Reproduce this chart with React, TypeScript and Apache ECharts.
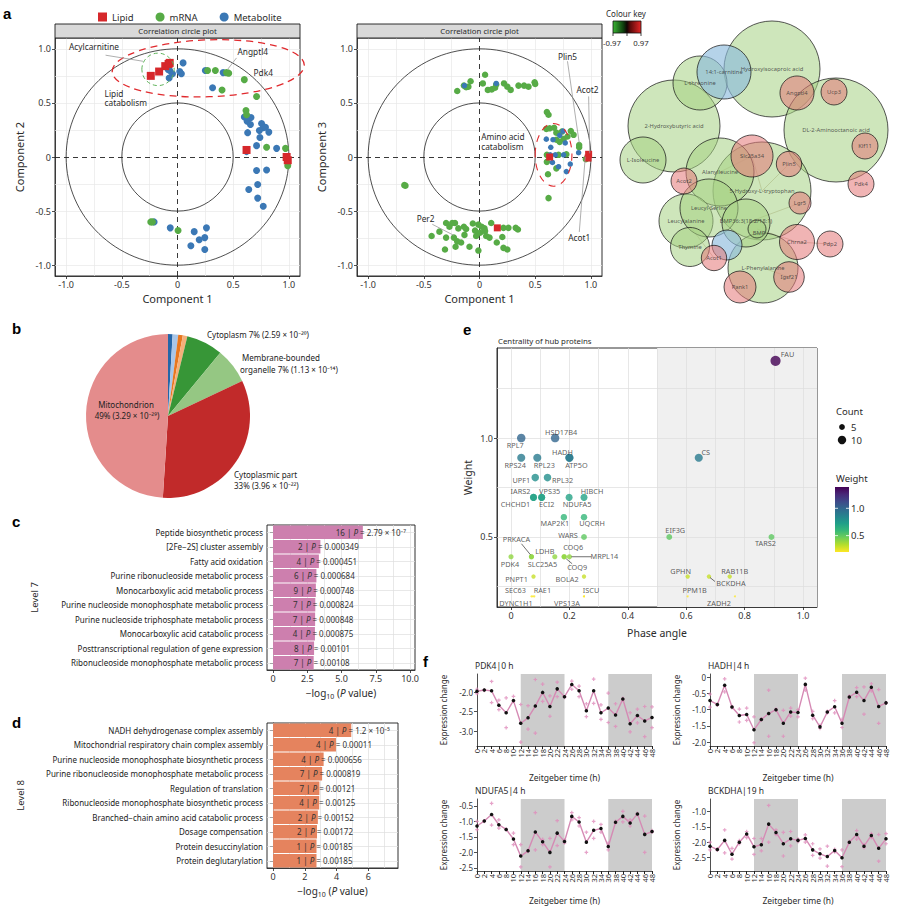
import React, { useEffect, useRef } from 'react';
import * as echarts from 'echarts';

const FONT = "'Noto Sans', 'DejaVu Sans', sans-serif";
const INK = '#2b2b2b';
const RED = '#d6282b';
const GREEN = '#57ab46';
const BLUE = '#3b78b5';

// ---------- a: correlation circle plots (component 1 vs 2 / 1 vs 3) ----------
const circleTicks = [-1, -0.5, 0, 0.5, 1];
const circleGrid = [-1, -0.75, -0.5, -0.25, 0.25, 0.5, 0.75, 1];
const lipid12 = [[-0.24, 0.75], [-0.165, 0.79], [-0.11, 0.84], [-0.08, 0.86], [-0.07, 0.87], [0.62, 0.065], [0.98, 0.0], [0.99, -0.03]];
const mrna12 = [[-0.24, -0.6], [-0.225, -0.6], [0.005, -0.68], [0.27, 0.8], [0.34, 0.8], [0.44, 0.78], [0.46, 0.775], [0.6, 0.715], [0.4, 0.62], [0.71, 0.56], [0.615, 0.43], [0.62, 0.39], [0.8, 0.09], [0.97, 0.08], [0.99, -0.08]];
const metab12 = [[0.05, 0.87], [-0.07, 0.8], [-0.045, 0.77], [-0.075, 0.73], [0.02, 0.79], [0.035, 0.77], [-0.085, 0.81], [0.25, 0.8], [0.41, 0.78], [0.315, 0.64], [0.6, 0.37], [0.625, 0.33], [0.66, 0.365], [0.655, 0.3], [0.63, 0.225], [0.755, 0.31], [0.77, 0.27], [0.735, 0.245], [0.79, 0.275], [0.82, 0.23], [0.74, 0.18], [0.71, 0.105], [0.89, 0.08], [0.62, 0.05], [0.71, -0.125], [0.8, -0.12], [0.72, -0.255], [0.64, -0.3], [0.72, -0.38], [0.77, -0.455], [-0.21, -0.6], [-0.065, -0.655], [0.15, -0.69], [0.26, -0.655], [0.195, -0.765], [0.245, -0.745], [0.12, -0.82], [0.245, -0.855]];
const lipid13 = [[0.98, 0.025], [0.975, -0.01], [0.16, -0.655], [0.63, 0.0]];
const mrna13 = [[-0.2, 0.61], [-0.14, 0.66], [-0.1, 0.65], [-0.08, 0.7], [0.05, 0.76], [0.03, 0.68], [0.075, 0.62], [0.11, 0.625], [0.14, 0.64], [0.15, 0.67], [0.22, 0.68], [0.25, 0.65], [0.28, 0.62], [0.35, 0.66], [0.4, 0.66], [0.44, 0.65], [0.495, 0.69], [0.5, 0.675], [-0.12, 0.645],
  [0.605, 0.415], [0.62, 0.39], [0.6, 0.26], [0.63, 0.265], [0.69, 0.225], [0.69, 0.16], [0.755, 0.165], [0.79, 0.19], [0.82, 0.24], [0.845, 0.205], [0.74, 0.235], [0.605, 0.02], [0.605, -0.045], [0.71, 0.02], [0.78, 0.025], [0.615, -0.16], [0.69, -0.105], [0.62, -0.38], [0.895, 0.11], [0.895, 0.09], [0.955, -0.02], [0.67, 0.27], [0.72, 0.14],
  [-0.665, -0.265], [-0.675, -0.26],
  [-0.43, -0.73], [-0.36, -0.69], [-0.3, -0.745], [-0.3, -0.61], [-0.31, -0.855], [-0.27, -0.645], [-0.245, -0.61], [-0.22, -0.61], [-0.23, -0.745], [-0.2, -0.78], [-0.215, -0.83], [-0.19, -0.66], [-0.165, -0.79], [-0.14, -0.645], [-0.12, -0.665], [-0.135, -0.72], [-0.09, -0.83], [-0.06, -0.615], [-0.04, -0.68], [-0.03, -0.73], [-0.01, -0.625], [-0.01, -0.865], [0.005, -0.7], [0.02, -0.645], [0.045, -0.66], [0.05, -0.685], [0.06, -0.73], [0.09, -0.745], [0.105, -0.61], [0.155, -0.79], [0.215, -0.655], [0.26, -0.655], [0.215, -0.84], [0.25, -0.855], [0.325, -0.655], [0.345, -0.67], [0.205, -0.74]];
const metab13 = [[0.15, 0.68], [-0.135, 0.66], [0.6, 0.165], [0.66, 0.16], [0.75, 0.24], [0.77, 0.13], [0.635, 0.02], [0.68, 0.02], [0.755, 0.02], [0.655, -0.05], [0.71, -0.09], [0.78, -0.135], [0.815, -0.065], [0.89, 0.04], [0.72, 0.2], [0.64, 0.09]];

// ---------- a: network (node layout in page pixels) ----------
const netNodes = [
  { name: 'Hydroxyisocaproic acid', kind: 'met', x: 772, y: 69, r: 48 },
  { name: 'DL-2-Aminooctanoic acid', kind: 'met', x: 836, y: 130, r: 52 },
  { name: '2-Hydroxybutyric acid', kind: 'met', x: 674, y: 126, r: 46 },
  { name: '5-Hydroxy-L-tryptophan', kind: 'met', x: 762, y: 191, r: 49 },
  { name: 'L-Phenylalanine', kind: 'met', x: 763, y: 268, r: 35 },
  { name: 'Alanylleucine', kind: 'met', x: 720, y: 172, r: 34 },
  { name: 'L-threonine', kind: 'met', x: 700, y: 83, r: 27 },
  { name: '14:1-carnitine', kind: 'lip', x: 724, y: 72, r: 27 },
  { name: 'L-Isoleucine', kind: 'met', x: 643, y: 160, r: 23 },
  { name: 'Leucylalanine', kind: 'met', x: 686, y: 221, r: 27 },
  { name: 'Leucyl-Serine', kind: 'met', x: 709, y: 208, r: 29 },
  { name: 'BMP36:3(18:2/18:1)', kind: 'met', x: 746, y: 223, r: 24 },
  { name: 'BMP', kind: 'met', x: 757, y: 229, r: 9 },
  { name: 'PE', kind: 'lip', x: 727, y: 245, r: 15 },
  { name: 'Thymine', kind: 'met', x: 690, y: 247, r: 19.5 },
  { name: 'Angptl4', kind: 'gene', x: 797, y: 93, r: 17 },
  { name: 'Ucp3', kind: 'gene', x: 834, y: 92, r: 13 },
  { name: 'Klf11', kind: 'gene', x: 865, y: 146, r: 13 },
  { name: 'Pdk4', kind: 'gene', x: 861, y: 184, r: 13 },
  { name: 'Slc25a34', kind: 'gene', x: 752, y: 156, r: 21 },
  { name: 'Plin5', kind: 'gene', x: 789, y: 164, r: 12.7 },
  { name: 'Acot2', kind: 'gene', x: 684, y: 181, r: 13 },
  { name: 'Lgr5', kind: 'gene', x: 800, y: 203, r: 11 },
  { name: 'Chrna2', kind: 'gene', x: 797, y: 242, r: 17.5 },
  { name: 'Pdp2', kind: 'gene', x: 830, y: 244, r: 13 },
  { name: 'Acot1', kind: 'gene', x: 714, y: 258, r: 12.7 },
  { name: 'Igsf21', kind: 'gene', x: 789, y: 277, r: 15.3 },
  { name: 'Pank1', kind: 'gene', x: 740, y: 287, r: 16 },
];
const netLinks = [['Chrna2', 'Pdp2'], ['Slc25a34', '5-Hydroxy-L-tryptophan'], ['Plin5', '5-Hydroxy-L-tryptophan'], ['Lgr5', 'BMP36:3(18:2/18:1)'], ['Chrna2', 'BMP'], ['Igsf21', 'L-Phenylalanine'], ['Acot1', 'Leucylalanine'], ['Slc25a34', 'Alanylleucine']];

// ---------- b: pie ----------
const pieNames = ['Other 1', 'Other 2', 'Other 3', 'Other 4', 'Cytoplasm', 'Membrane-bounded organelle', 'Cytoplasmic part', 'Mitochondrion'];
const pieValues = [0.9, 1.1, 0.9, 0.9, 7.2, 7.0, 33, 49];
const pieColors = ['#2566a8', '#a9c6e8', '#e8771f', '#f5b07a', '#379637', '#95c783', '#c12a2a', '#e48c8c'];

// ---------- c / d: enrichment bars ----------
const cTerms = ['Peptide biosynthetic process', '[2Fe−2S] cluster assembly', 'Fatty acid oxidation', 'Purine ribonucleoside metabolic process', 'Monocarboxylic acid metabolic process', 'Purine nucleoside monophosphate metabolic process', 'Purine nucleoside triphosphate metabolic process', 'Monocarboxylic acid catabolic process', 'Posttranscriptional regulation of gene expression', 'Ribonucleoside monophosphate metabolic process'];
const cCounts = [16, 2, 4, 6, 9, 7, 7, 4, 8, 7];
const cP = [2.79e-7, 0.000349, 0.000451, 0.000684, 0.000748, 0.000824, 0.000848, 0.000875, 0.00101, 0.00108];
const cPText = ['2.79 × 10⁻⁷', '0.000349', '0.000451', '0.000684', '0.000748', '0.000824', '0.000848', '0.000875', '0.00101', '0.00108'];
const cTicks = [0, 2.5, 5, 7.5, 10];
const cGridX = [0, 1.25, 2.5, 3.75, 5, 6.25, 7.5, 8.75, 10];
const dTerms = ['NADH dehydrogenase complex assembly', 'Mitochondrial respiratory chain complex assembly', 'Purine nucleoside monophosphate biosynthetic process', 'Purine ribonucleoside monophosphate metabolic process', 'Regulation of translation', 'Ribonucleoside monophosphate biosynthetic process', 'Branched−chain amino acid catabolic process', 'Dosage compensation', 'Protein desuccinylation', 'Protein deglutarylation'];
const dCounts = [4, 4, 4, 7, 7, 4, 2, 2, 1, 1];
const dP = [1.2e-5, 0.00011, 0.000656, 0.000819, 0.00121, 0.00125, 0.00152, 0.00172, 0.00185, 0.00185];
const dPText = ['1.2 × 10⁻⁵', '0.00011', '0.000656', '0.000819', '0.00121', '0.00125', '0.00152', '0.00172', '0.00185', '0.00185'];
const dTicks = [0, 2, 4, 6];
const dGridX = [0, 1, 2, 3, 4, 5, 6, 7];

// ---------- e: hub proteins ----------
const eNames = ['FAU', 'RPL7', 'HSD17B4', 'RPS24', 'RPL23', 'HADH', 'ATP5O', 'CS', 'UPF1', 'RPL32', 'IARS2', 'CHCHD1', 'VPS35', 'ECI2', 'NDUFA5', 'HIBCH', 'MAP2K1', 'UQCRH', 'WARS', 'EIF3G', 'TARS2', 'PDK4', 'PRKACA', 'SLC25A5', 'LDHB', 'COQ6', 'COQ9', 'MRPL14', 'PNPT1', 'BOLA2', 'GPHN', 'BCKDHA', 'RAB11B', 'SEC63', 'RAE1', 'DYNC1H1', 'ISCU', 'VPS13A', 'PPM1B', 'ZADH2'];
const ePhase = [0.906, 0.035, 0.151, 0.035, 0.09, 0.2, 0.2, 0.643, 0.083, 0.125, 0.077, 0.077, 0.105, 0.105, 0.199, 0.25, 0.181, 0.25, 0.25, 0.542, 0.892, 0.0, 0.07, 0.07, 0.15, 0.182, 0.182, 0.2, 0.077, 0.25, 0.605, 0.678, 0.749, 0.07, 0.08, 0.075, 0.25, 0.25, 0.605, 0.767];
const eWeight = [1.39, 1.0, 1.0, 0.9, 0.9, 0.9, 0.9, 0.9, 0.8, 0.8, 0.7, 0.7, 0.7, 0.7, 0.7, 0.7, 0.6, 0.6, 0.5, 0.5, 0.5, 0.4, 0.4, 0.4, 0.4, 0.4, 0.4, 0.4, 0.3, 0.3, 0.3, 0.3, 0.3, 0.2, 0.2, 0.2, 0.2, 0.2, 0.2, 0.2];
const eCount = [14, 10, 10, 9, 9, 9, 9, 9, 8, 8, 7, 7, 7, 7, 7, 7, 6, 6, 5, 5, 5, 4, 4, 4, 4, 4, 4, 4, 3, 3, 3, 3, 3, 1, 1, 1, 1, 1, 1, 1];
// label placement (px offset of label centre from its point)
const eLabelOffset = [[12, -7], [-6, 7], [6, -6], [-6, 7], [7, 7], [-7, -6], [7, 7], [7, -6], [-14, 2], [15, 2], [-13, -6], [-18, 7], [8, -6], [5, 7], [8, 7], [8, -6], [-9, 6], [8, 6], [-16, -2], [6, -7], [-6, 6], [-1, 7], [-15, -18], [11, 7], [-10, -6], [9, -10], [13, 10], [35, -1], [-17, 2], [-17, 2], [-7, -6], [22, 6], [5, -6], [-16, -6], [8, -6], [-17, 7], [7, -6], [-17, 7], [7, -6], [-16, 7]];
const eLeaders: Record<string, number[]> = { PRKACA: [-1, -2, -10, -13], COQ9: [2, 2, 8, 7], MRPL14: [2, 0, 22, 0], BCKDHA: [1, 1, 6, 5] };
const eXTicks = [0, 0.2, 0.4, 0.6, 0.8, 1.0];
const eYTicks = [0.5, 1.0];
const eGridX = [0, 0.1, 0.2, 0.3, 0.4, 0.5, 0.6, 0.7, 0.8, 0.9, 1.0];
const eGridY = [0.25, 0.5, 0.75, 1.0, 1.25];
const viridis = ['#fde725', '#b5de2b', '#6ece58', '#35b779', '#1f9e89', '#26828e', '#31688e', '#3e4989', '#482878', '#440154'];

// ---------- f: time courses ----------
const zt = ['0', '2', '4', '6', '8', '10', '12', '14', '16', '18', '20', '22', '24', '26', '28', '30', '32', '34', '36', '38', '40', '42', '44', '46', '48'];
const pdk4Mean = [-1.98, -1.95, -1.97, -2.34, -2.53, -2.22, -2.8, -2.66, -2.36, -2.01, -2.37, -1.92, -2.12, -1.81, -1.97, -2.48, -1.97, -2.53, -2.41, -2.59, -2.18, -2.81, -2.6, -2.74, -2.65];
const pdk4RepA = [-1.93, -1.95, -1.73, -2.21, -2.15, -2.11, -2.32, -2.35, -1.68, -1.8, -2.1, -1.75, -2.12, -1.72, -1.85, -2.3, -1.67, -2.33, -2.03, -2.3, -2.16, -2.53, -2.44, -2.37, -2.38];
const pdk4RepB = [-2.04, -1.96, -2.27, -2.45, -2.91, -2.23, -3.28, -2.95, -3.05, -2.24, -2.62, -2.12, -2.14, -1.93, -2.12, -2.63, -2.29, -2.7, -2.78, -2.88, -2.2, -3.02, -2.79, -3.14, -2.91];
const hadhMean = [-0.72, -0.84, -0.25, -0.92, -1.18, -1.15, -1.62, -1.3, -1.12, -1.0, -1.42, -1.07, -1.09, -0.22, -1.17, -1.53, -1.07, -0.91, -1.42, -0.61, -0.46, -0.72, -0.31, -0.9, -0.79];
const hadhRepA = [-0.52, -0.84, -0.05, -0.9, -0.98, -0.95, -1.22, -1.28, -0.4, -0.98, -1.02, -0.95, -1.0, -0.03, -1.05, -1.48, -1.05, -0.72, -1.3, -0.58, -0.32, -0.3, -0.2, -0.38, -0.78];
const hadhRepB = [-0.92, -0.86, -0.45, -0.94, -1.38, -1.33, -2.02, -1.32, -1.82, -1.02, -1.82, -1.2, -1.22, -0.4, -1.28, -1.58, -1.1, -1.1, -1.55, -0.64, -0.6, -1.14, -0.42, -1.42, -0.8];
const ndufa5Mean = [-1.15, -0.99, -0.78, -1.11, -1.26, -1.57, -2.12, -1.95, -1.34, -1.66, -2.0, -1.38, -1.65, -0.84, -1.02, -1.67, -1.29, -1.23, -1.81, -1.03, -0.84, -1.05, -0.76, -1.42, -1.33];
const ndufa5RepA = [-1.0, -0.98, -0.42, -0.95, -1.25, -1.38, -1.75, -1.93, -0.72, -1.58, -1.55, -0.98, -1.6, -0.72, -0.88, -1.35, -1.0, -1.1, -1.7, -1.0, -0.68, -0.95, -0.74, -0.83, -1.3];
const ndufa5RepB = [-1.27, -1.0, -1.12, -1.22, -1.27, -1.75, -2.47, -1.97, -1.92, -1.75, -2.47, -1.78, -1.7, -0.95, -1.15, -2.0, -1.55, -1.35, -1.92, -1.05, -1.02, -1.15, -0.78, -2.0, -1.35];
const bckdhaMean = [-2.13, -2.24, -1.94, -2.39, -2.0, -1.73, -2.15, -2.08, -1.41, -1.68, -2.05, -1.89, -1.94, -1.88, -2.25, -2.38, -2.47, -2.27, -2.51, -2.0, -1.75, -2.13, -1.78, -2.2, -1.89];
const bckdhaRepA = [-2.0, -2.22, -1.6, -2.2, -1.95, -1.65, -1.88, -1.88, -0.8, -1.6, -1.68, -1.65, -1.9, -1.76, -2.05, -2.22, -2.13, -2.23, -2.25, -1.98, -1.62, -2.08, -1.72, -1.75, -1.72];
const bckdhaRepB = [-2.25, -2.26, -2.35, -2.55, -2.05, -1.85, -2.4, -2.28, -2.0, -1.75, -2.45, -2.12, -1.98, -2.0, -2.43, -2.52, -2.78, -2.32, -2.8, -2.02, -1.9, -2.18, -1.85, -2.62, -2.05];
const fPanels = [
  { title: 'PDK4|0 h', mean: pdk4Mean, a: pdk4RepA, b: pdk4RepB, min: -3.38, max: -1.54, ticks: [-3, -2.5, -2] },
  { title: 'HADH|4 h', mean: hadhMean, a: hadhRepA, b: hadhRepB, min: -2.12, max: 0.1, ticks: [-2, -1.5, -1, -0.5, 0] },
  { title: 'NDUFA5|4 h', mean: ndufa5Mean, a: ndufa5RepA, b: ndufa5RepB, min: -2.6, max: -0.28, ticks: [-2.5, -2, -1.5, -1, -0.5] },
  { title: 'BCKDHA|19 h', mean: bckdhaMean, a: bckdhaRepA, b: bckdhaRepB, min: -2.94, max: -0.59, ticks: [-2.5, -2, -1.5, -1] },
];
const darkPhases = [['12', '24'], ['36', '48']];

// ---------- layout ----------
const GRIDS = [
  { left: 55, top: 38, width: 245, height: 238 },   // 0 a1
  { left: 357, top: 38, width: 245, height: 238 },  // 1 a2
  { left: 600, top: 0, width: 305, height: 310 },   // 2 network
  { left: 267, top: 525, width: 148, height: 145 }, // 3 c
  { left: 267, top: 723, width: 131, height: 145 }, // 4 d
  { left: 497, top: 348, width: 320, height: 259 }, // 5 e
  { left: 477, top: 674, width: 175, height: 72 },  // 6 f1
  { left: 710, top: 674, width: 176, height: 72 },  // 7 f2
  { left: 477, top: 799, width: 175, height: 73 },  // 8 f3
  { left: 710, top: 799, width: 176, height: 73 },  // 9 f4
];

const fmt1 = (v: number) => (Math.abs(v) < 1e-9 ? '0' : v.toFixed(1));
const fmtInt = (v: number) => String(Math.round(v));

function valAxis(gridIndex: number, min: number, max: number, ticks: number[], extra: any = {}) {
  return {
    type: 'value', gridIndex, min, max,
    splitLine: { show: false },
    axisLine: { show: true, onZero: false, lineStyle: { color: '#222', width: 0.8 } },
    axisTick: { show: true, length: 3, customValues: ticks, lineStyle: { color: '#222', width: 0.8 } },
    axisLabel: { customValues: ticks, fontSize: 9, color: '#333', margin: 4, formatter: fmt1, fontFamily: FONT },
    nameTextStyle: { fontSize: 11, color: INK, fontFamily: FONT },
    ...extra,
  };
}

function gridLines(idx: number, xs: any[], ys: any[], extraLines: any[] = [], color = '#e8e8e8') {
  return {
    type: 'line', xAxisIndex: idx, yAxisIndex: idx, data: [], silent: true, z: 1,
    markLine: {
      silent: true, symbol: ['none', 'none'], z: 1, animation: false,
      label: { show: false },
      lineStyle: { color, width: 0.7, type: 'solid' },
      data: [...xs.map((v) => ({ xAxis: v })), ...ys.map((v) => ({ yAxis: v })), ...extraLines],
    },
  };
}

function scatterA(idx: number, name: string, data: number[][], color: string, symbol: string, size: number) {
  return { type: 'scatter', name, xAxisIndex: idx, yAxisIndex: idx, data, symbol, symbolSize: size, itemStyle: { color, opacity: 1 }, z: 3 };
}

function buildOption() {
  const xAxis: any[] = [];
  const yAxis: any[] = [];
  const series: any[] = [];

  // a1 / a2
  [0, 1].forEach((g) => {
    xAxis.push(valAxis(g, -1.1, 1.1, circleTicks, { name: 'Component 1', nameLocation: 'middle', nameGap: 17 }));
    yAxis.push(valAxis(g, -1.1, 1.1, circleTicks, { name: g === 0 ? 'Component 2' : 'Component 3', nameLocation: 'middle', nameGap: 30 }));
    const zeroStyle = { color: '#222', width: 0.9, type: [5, 4] };
    series.push(gridLines(g, circleGrid, circleGrid, [{ xAxis: 0, lineStyle: zeroStyle }, { yAxis: 0, lineStyle: zeroStyle }]));
  });
  series.push(scatterA(0, 'Metabolite', metab12, BLUE, 'circle', 7));
  series.push(scatterA(0, 'mRNA', mrna12, GREEN, 'circle', 7));
  series.push(scatterA(0, 'Lipid', lipid12, RED, 'rect', 8));
  series.push(scatterA(1, 'mRNA', mrna13, GREEN, 'circle', 6.5));
  series.push(scatterA(1, 'Metabolite', metab13, BLUE, 'circle', 5.5));
  series.push(scatterA(1, 'Lipid', lipid13, RED, 'rect', 7));

  // network
  xAxis.push({ type: 'value', gridIndex: 2, min: 600, max: 905, show: false });
  yAxis.push({ type: 'value', gridIndex: 2, min: 0, max: 310, inverse: true, show: false });
  const nodeFill: Record<string, string> = { met: 'rgba(166,210,130,0.68)', lip: 'rgba(140,186,220,0.8)', gene: 'rgba(228,122,122,0.7)' };
  const nodeByName: Record<string, any> = {};
  netNodes.forEach((n) => (nodeByName[n.name] = n));
  series.push({
    type: 'lines', coordinateSystem: 'cartesian2d', xAxisIndex: 2, yAxisIndex: 2, silent: true, z: 2,
    lineStyle: { color: '#9c7b5a', width: 0.8, opacity: 0.55 },
    data: netLinks.map(([s, t]) => ({ coords: [[nodeByName[s].x, nodeByName[s].y], [nodeByName[t].x, nodeByName[t].y]] })),
  });
  series.push({
    type: 'scatter', xAxisIndex: 2, yAxisIndex: 2, silent: true, z: 3,
    data: netNodes.map((n) => ({
      name: n.name, value: [n.x, n.y], symbolSize: n.r * 2,
      itemStyle: { color: nodeFill[n.kind], borderColor: '#151515', borderWidth: 0.9 },
      label: { show: n.name !== 'PE', offset: n.name === 'BMP' ? [2, 4] : n.name === 'BMP36:3(18:2/18:1)' ? [0, -2] : [0, 0] },
    })),
    label: { show: true, position: 'inside', formatter: '{b}', fontSize: 5.8, color: '#333', fontFamily: FONT, textBorderWidth: 0 },
  });

  // c, d bars
  const barBlock = (g: number, terms: string[], counts: number[], ps: number[], ptxt: string[], min: number, max: number, ticks: number[], gx: number[], color: string, level: string, levelGap: number, fmt: (v: number) => string) => {
    xAxis.push(valAxis(g, min, max, ticks, {
      name: '{a|−log}{s|10}{a| (}{i|P}{a| value)}', nameLocation: 'middle', nameGap: 16,
      nameTextStyle: { rich: { a: { fontSize: 10, color: INK, fontFamily: FONT }, s: { fontSize: 7, color: INK, padding: [7, 0, 0, 0], fontFamily: FONT }, i: { fontSize: 10, fontStyle: 'italic', color: INK, fontFamily: FONT } } },
      axisLabel: { customValues: ticks, fontSize: 9, color: '#333', margin: 4, formatter: fmt, fontFamily: FONT },
    }));
    yAxis.push({
      type: 'category', gridIndex: g, data: terms, inverse: true,
      axisLine: { show: true, lineStyle: { color: '#222', width: 0.8 } },
      axisTick: { show: true, alignWithLabel: true, length: 3, lineStyle: { color: '#222' } },
      axisLabel: { fontSize: 8, color: '#222', margin: 4, fontFamily: FONT },
      splitLine: { show: false },
      name: level, nameLocation: 'middle', nameGap: levelGap, nameRotate: 90,
      nameTextStyle: { fontSize: 9.5, color: INK, fontFamily: FONT },
    });
    series.push(gridLines(g, gx, terms, [], '#dedede'));
    series.push({
      type: 'bar', xAxisIndex: g, yAxisIndex: g, z: 3, barCategoryGap: '6%',
      data: ps.map((p) => -Math.log10(p)),
      itemStyle: { color },
      label: {
        show: true, position: ['100%', '50%'], align: 'center', verticalAlign: 'middle', offset: [8, 0],
        formatter: (pr: any) => `{t|${counts[pr.dataIndex]} | }{i|P}{t| = ${ptxt[pr.dataIndex]}}`,
        rich: { t: { fontSize: 8, color: '#333', fontFamily: FONT }, i: { fontSize: 8, fontStyle: 'italic', color: '#333', fontFamily: FONT } },
      },
    });
  };
  barBlock(3, cTerms, cCounts, cP, cPText, -0.44, 10.36, cTicks, cGridX, '#cd7fae', 'Level 7', 228, fmt1);
  barBlock(4, dTerms, dCounts, dP, dPText, -0.38, 7.86, dTicks, dGridX, '#e5835e', 'Level 8', 242, fmtInt);

  // e
  xAxis.push(valAxis(5, -0.048, 1.048, eXTicks, { name: 'Phase angle', nameLocation: 'middle', nameGap: 20, nameTextStyle: { fontSize: 10.5, color: INK, fontFamily: FONT } }));
  yAxis.push(valAxis(5, 0.146, 1.455, eYTicks, { name: 'Weight', nameLocation: 'middle', nameGap: 24, nameTextStyle: { fontSize: 10.5, color: INK, fontFamily: FONT } }));
  const eGrid: any = gridLines(5, eGridX, eGridY, [], '#dcdcdc');
  eGrid.markLine.z = 2;
  eGrid.markArea = { silent: true, z: 1, itemStyle: { color: '#f0f0f0' }, data: [[{ xAxis: 0.5 }, { xAxis: 1.048 }]] };
  series.push(eGrid);
  const eSeriesIndex = series.length;
  const eData = eNames.map((n, i) => ({ name: n, value: [ePhase[i], eWeight[i], eCount[i]] }));
  series.push({
    type: 'scatter', xAxisIndex: 5, yAxisIndex: 5, z: 4, data: eData,
    symbolSize: (v: number[]) => Math.sqrt(4 + 7.6 * (v[2] - 1)),
    label: { show: false },
  });
  // label layer (kept out of the colour mapping)
  series.push({
    type: 'scatter', xAxisIndex: 5, yAxisIndex: 5, z: 5, data: eData, silent: true,
    symbol: 'circle', symbolSize: 1, itemStyle: { color: 'rgba(0,0,0,0)' },
    label: { show: true, position: 'inside', formatter: '{b}', fontSize: 7.3, color: '#333333', fontFamily: FONT },
    labelLayout: (p: any) => ({ dx: eLabelOffset[p.dataIndex][0], dy: eLabelOffset[p.dataIndex][1], hideOverlap: false }),
  });

  // f
  fPanels.forEach((p, k) => {
    const g = 6 + k;
    xAxis.push({
      type: 'category', gridIndex: g, data: zt, boundaryGap: false,
      axisLine: { show: true, onZero: false, lineStyle: { color: '#222', width: 0.8 } },
      axisTick: { show: true, length: 3, interval: 0, lineStyle: { color: '#222' } },
      axisLabel: { interval: 0, rotate: 90, fontSize: 7.5, color: '#333', margin: 3, fontFamily: FONT },
      name: 'Zeitgeber time (h)', nameLocation: 'middle', nameGap: k < 2 ? 27 : 25,
      nameTextStyle: { fontSize: 8.5, color: INK, fontFamily: FONT },
    });
    yAxis.push(valAxis(g, p.min, p.max, p.ticks, {
      name: 'Expression change', nameLocation: 'middle', nameGap: 30,
      nameTextStyle: { fontSize: 8, color: INK, fontFamily: FONT },
      axisLabel: { customValues: p.ticks, fontSize: 8, color: '#333', margin: 4, formatter: fmt1, fontFamily: FONT },
    }));
    series.push({
      type: 'line', xAxisIndex: g, yAxisIndex: g, data: p.mean, z: 3,
      symbol: 'circle', symbolSize: 3.5, showSymbol: true,
      itemStyle: { color: '#111' },
      lineStyle: { color: '#d58ab4', width: 1.4 },
      markArea: { silent: true, z: 1, itemStyle: { color: '#cccccc' }, data: darkPhases.map(([s, e]) => [{ xAxis: s }, { xAxis: e }]) },
    });
    series.push({
      type: 'scatter', xAxisIndex: g, yAxisIndex: g, z: 2,
      data: [...p.a.map((v, i) => [i, v]), ...p.b.map((v, i) => [i, v])],
      symbol: 'path://M1,0H2V1H3V2H2V3H1V2H0V1H1Z', symbolSize: 3.6,
      itemStyle: { color: '#e08cbc' },
    });
  });

  // b pie
  series.push({
    type: 'pie', center: [168, 416], radius: 82, startAngle: 90, clockwise: true, silent: true,
    label: { show: false }, labelLine: { show: false },
    data: pieNames.map((n, i) => ({ name: n, value: pieValues[i], itemStyle: { color: pieColors[i], borderWidth: 0 } })),
  });

  return {
    animation: false,
    backgroundColor: '#ffffff',
    textStyle: { fontFamily: FONT },
    grid: GRIDS.map((g, i) => ({ ...g, containLabel: false, show: [0, 1, 3, 4, 5].includes(i), borderColor: '#1a1a1a', borderWidth: 0.9, backgroundColor: 'transparent' })),
    xAxis, yAxis, series,
    legend: {
      left: 93, top: 7, itemGap: 22, itemWidth: 9, itemHeight: 9,
      data: ['Lipid', 'mRNA', 'Metabolite'],
      textStyle: { fontSize: 9.5, color: INK, fontFamily: FONT },
    },
    visualMap: { show: false, type: 'continuous', seriesIndex: eSeriesIndex, dimension: 1, min: 0.2, max: 1.39, inRange: { color: viridis } },
  };
}

function buildGraphics(chart: any) {
  const px = (g: number, x: number, y: number) => chart.convertToPixel({ gridIndex: g }, [x, y]) as number[];
  const els: any[] = [];
  const text = (x: number, y: number, t: string, o: any = {}) =>
    els.push({ type: 'text', x, y, z: 30, silent: true, style: { text: t, fill: INK, fontSize: 8, fontFamily: FONT, align: 'left', verticalAlign: 'middle', ...o } });
  const line = (x1: number, y1: number, x2: number, y2: number, st: any = {}) =>
    els.push({ type: 'line', z: 25, silent: true, shape: { x1, y1, x2, y2 }, style: { stroke: '#9a9a9a', lineWidth: 0.8, ...st } });
  const ell = (g: number, cx: number, cy: number, rx: number, ry: number, st: any, z = 2, rotation = 0) => {
    const c = px(g, cx, cy); const a = px(g, cx + rx, cy); const b = px(g, cx, cy + ry);
    els.push({ type: 'ellipse', x: c[0], y: c[1], rotation, z, silent: true, shape: { cx: 0, cy: 0, rx: a[0] - c[0], ry: c[1] - b[1] }, style: { fill: 'none', ...st } });
  };
  const dataLine = (g: number, a: number[], b: number[]) => { const p = px(g, a[0], a[1]); const q = px(g, b[0], b[1]); line(p[0], p[1], q[0], q[1]); };
  const dataText = (g: number, x: number, y: number, t: string, o: any = {}) => { const p = px(g, x, y); text(p[0], p[1], t, o); };

  // panel letters
  const bold = { fontSize: 15, fontWeight: 'bold', fontFamily: "'Liberation Sans', Arial, sans-serif", fill: '#000' };
  text(3, 13, 'a', bold); text(12, 328, 'b', bold); text(12, 521, 'c', bold); text(12, 722, 'd', bold); text(463, 329, 'e', bold); text(423, 661, 'f', bold);

  // a: strips, rings, annotations
  [0, 1].forEach((g) => {
    const G = GRIDS[g];
    els.push({ type: 'rect', z: 5, silent: true, shape: { x: G.left, y: G.top - 14, width: G.width, height: 14 }, style: { fill: '#d9d9d9', stroke: '#1a1a1a', lineWidth: 0.9 } });
    text(G.left + G.width / 2, G.top - 7, 'Correlation circle plot', { align: 'center', fontSize: 7.8 });
    ell(g, 0, 0, 1, 1, { stroke: '#222', lineWidth: 0.8 });
    ell(g, 0, 0, 0.5, 0.5, { stroke: '#222', lineWidth: 0.8 });
  });
  ell(0, 0.276, 0.82, 0.863, 0.263, { stroke: '#e02a2e', lineWidth: 1.3, lineDash: [7, 5] }, 20, 0.035);
  ell(0, -0.175, 0.81, 0.145, 0.15, { stroke: '#5fb35a', lineWidth: 1, lineDash: [4, 3] }, 20);
  ell(1, 0.665, 0.02, 0.165, 0.29, { stroke: '#e02a2e', lineWidth: 1.1, lineDash: [7, 6] }, 20);
  dataLine(0, [-0.646, 0.941], [-0.31, 0.885]);
  dataLine(0, [0.53, 0.916], [0.45, 0.81]);
  dataText(0, -0.75, 1.025, 'Acylcarnitine', { align: 'center', fontSize: 8.3 });
  dataText(0, 0.676, 0.978, 'Angptl4', { align: 'center', fontSize: 8.3 });
  dataText(0, 0.77, 0.78, 'Pdk4', { align: 'center', fontSize: 8.3 });
  dataText(0, -0.655, 0.59, 'Lipid', { fontSize: 8.3 });
  dataText(0, -0.655, 0.5, 'catabolism', { fontSize: 8.3 });
  dataLine(1, [0.79, 0.885], [0.896, 0.127]);
  dataLine(1, [0.98, 0.56], [0.99, 0.034]);
  dataLine(1, [0.896, -0.693], [0.95, 0.003]);
  dataLine(1, [-0.424, -0.622], [-0.231, -0.724]);
  dataText(1, 0.79, 0.926, 'Plin5', { align: 'center', fontSize: 8.3 });
  dataText(1, 0.97, 0.628, 'Acot2', { align: 'center', fontSize: 8.3 });
  dataText(1, 0.896, -0.74, 'Acot1', { align: 'center', fontSize: 8.3 });
  dataText(1, -0.484, -0.57, 'Per2', { align: 'center', fontSize: 8.3 });
  dataText(1, 0.015, 0.19, 'Amino acid', { fontSize: 8.3 });
  dataText(1, 0.015, 0.1, 'catabolism', { fontSize: 8.3 });

  // colour key
  text(606, 13, 'Colour key', { fontSize: 8 });
  els.push({ type: 'rect', z: 20, silent: true, shape: { x: 613, y: 21, width: 28, height: 12 },
    style: { stroke: '#111', lineWidth: 0.8, fill: new echarts.graphic.LinearGradient(0, 0, 1, 0, [
      { offset: 0, color: '#3ab534' }, { offset: 0.38, color: '#0d3a0d' }, { offset: 0.5, color: '#100404' }, { offset: 0.62, color: '#5c0b0b' }, { offset: 1, color: '#e52626' }]) } });
  [613, 627, 641].forEach((x) => line(x, 33, x, 36, { stroke: '#111' }));
  text(612, 43, '-0.97', { align: 'center', fontSize: 7.8 });
  text(641, 43, '0.97', { align: 'center', fontSize: 7.8 });

  // b pie labels
  const pl = { fontSize: 8, fill: '#222' };
  text(207, 334, 'Cytoplasm 7% (2.59 × 10⁻²⁰)', pl);
  text(242, 357, 'Membrane-bounded', pl);
  text(240, 369, 'organelle 7% (1.13 × 10⁻¹⁴)', pl);
  text(126, 404, 'Mitochondrion', { ...pl, align: 'center' });
  text(127, 415, '49% (3.29 × 10⁻²⁹)', { ...pl, align: 'center' });
  text(234, 474, 'Cytoplasmic part', pl);
  text(234, 485, '33% (3.96 × 10⁻²²)', pl);

  // e: title, leaders, legends
  text(498, 341, 'Centrality of hub proteins', { fontSize: 7.8 });
  eNames.forEach((n, i) => {
    const L = eLeaders[n];
    if (!L) return;
    const p = px(5, ePhase[i], eWeight[i]);
    line(p[0] + L[0], p[1] + L[1], p[0] + L[2], p[1] + L[3], { stroke: '#333', lineWidth: 0.7 });
  });
  text(836, 411, 'Count', { fontSize: 9.5 });
  els.push({ type: 'circle', z: 20, silent: true, shape: { cx: 842, cy: 427, r: 2.9 }, style: { fill: '#111' } });
  els.push({ type: 'circle', z: 20, silent: true, shape: { cx: 842, cy: 440, r: 4.2 }, style: { fill: '#111' } });
  text(851, 427, '5', { fontSize: 9.5 });
  text(851, 440, '10', { fontSize: 9.5 });
  text(836, 478, 'Weight', { fontSize: 9.5 });
  els.push({ type: 'rect', z: 20, silent: true, shape: { x: 835, y: 487, width: 14, height: 65 },
    style: { fill: new echarts.graphic.LinearGradient(0, 1, 0, 0, viridis.map((c, i) => ({ offset: i / (viridis.length - 1), color: c }))) } });
  [[1.0, '1.0'], [0.5, '0.5']].forEach(([w, s]: any) => {
    const y = 487 + (1.39 - w) / (1.39 - 0.2) * 65;
    line(835, y, 838, y, { stroke: '#fff', lineWidth: 0.8 });
    line(846, y, 849, y, { stroke: '#fff', lineWidth: 0.8 });
    text(851, y, s, { fontSize: 9.5 });
  });

  // f titles
  fPanels.forEach((p, k) => {
    const G = GRIDS[6 + k];
    text(G.left - 2, G.top - 9, p.title, { fontSize: 8.5 });
  });

  return els;
}

export default function App() {
  const ref = useRef<HTMLDivElement>(null);
  useEffect(() => {
    if (!ref.current) return;
    const chart = echarts.init(ref.current, undefined, { renderer: 'svg' });
    chart.setOption(buildOption() as any);
    chart.setOption({ graphic: { elements: buildGraphics(chart) } });
    return () => chart.dispose();
  }, []);
  return <div ref={ref} style={{ position: 'fixed', left: 0, top: 0, width: 905, height: 906, background: '#fff' }} />;
}
